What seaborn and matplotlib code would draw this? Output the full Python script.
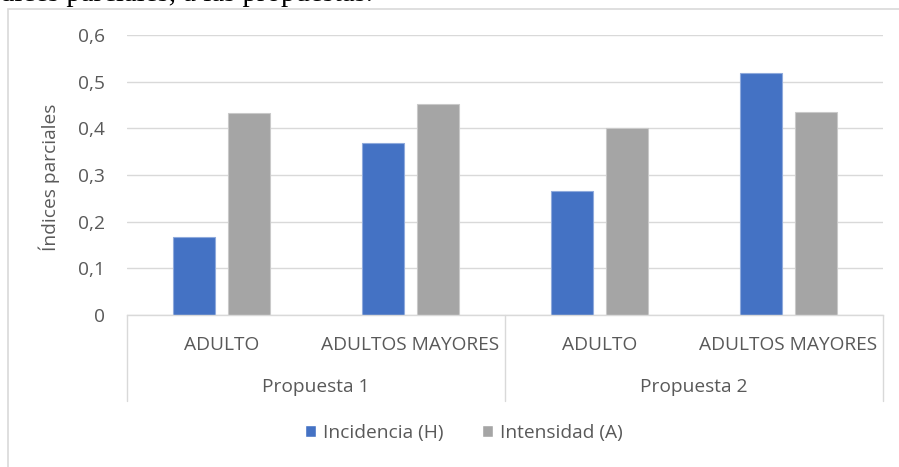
import matplotlib
matplotlib.use("Agg")
import matplotlib.pyplot as plt
from matplotlib.patches import Rectangle
from matplotlib.lines import Line2D
import seaborn as sns
import pandas as pd

# Data
grupos = ["Propuesta 1", "Propuesta 1", "Propuesta 2", "Propuesta 2"]
poblaciones = ["ADULTO", "ADULTOS MAYORES", "ADULTO", "ADULTOS MAYORES"]
incidencia = [0.168, 0.369, 0.266, 0.519]
intensidad = [0.432, 0.452, 0.400, 0.435]
series = ["Incidencia (H)", "Intensidad (A)"]
y_ticks = [0, 0.1, 0.2, 0.3, 0.4, 0.5, 0.6]
y_ticklabels = ["0", "0,1", "0,2", "0,3", "0,4", "0,5", "0,6"]

claves = [f"{g} | {p}" for g, p in zip(grupos, poblaciones)]
df = pd.DataFrame({
    "clave": claves * 2,
    "serie": [series[0]] * 4 + [series[1]] * 4,
    "valor": incidencia + intensidad,
})

TEXT = "#595959"
GRID = "#d9d9d9"
BLUE = "#4472c4"
GRAY = "#a5a5a5"
FS = 13.8

sns.set_theme(style="white")
plt.rcParams["font.family"] = ["Open Sans", "DejaVu Sans"]

W, H = 899, 467
fig = plt.figure(figsize=(W / 100, H / 100), dpi=100)
ax = fig.add_axes([127 / W, (H - 315) / H, (883 - 127) / W, (315 - 35) / H])

sns.barplot(
    data=df, x="clave", y="valor", hue="serie", order=claves,
    hue_order=series, palette=[BLUE, GRAY], width=0.577, gap=0.23,
    ax=ax, legend=True, saturation=1,
)
for patch, ec in zip(ax.patches[:8], ["#8faadc"] * 4 + ["#c9c9c9"] * 4):
    patch.set_edgecolor(ec)
    patch.set_linewidth(0.8)

ax.set_ylim(0, 0.6)
ax.set_xlim(-0.5, 3.5)
ax.set_yticks(y_ticks)
ax.set_yticklabels(y_ticklabels)
ax.yaxis.grid(True, color=GRID, linewidth=1.0)
ax.set_axisbelow(True)
for side in ["top", "right", "left"]:
    ax.spines[side].set_visible(False)
ax.spines["bottom"].set_color(GRID)
ax.spines["bottom"].set_linewidth(1.0)

ax.set_xticks(range(4))
ax.set_xticklabels(poblaciones)
ax.tick_params(axis="x", length=0, pad=15, labelsize=FS, labelcolor=TEXT)
ax.tick_params(axis="y", length=0, pad=16, labelsize=FS, labelcolor=TEXT)
ax.set_xlabel("")
ax.set_ylabel("Índices parciales", fontsize=FS, color=TEXT)
ax.yaxis.set_label_coords(-0.088, 0.493)


def fx(px):
    return px / W


def fy(py):
    return (H - py) / H


# Two-level category axis: group separators and group labels
for xpix in [127, 505, 883]:
    fig.add_artist(Line2D([fx(xpix), fx(xpix)], [fy(315), fy(401)],
                          color=GRID, linewidth=1.0))
for i, g in enumerate(["Propuesta 1", "Propuesta 2"]):
    ax.text(0.5 + 2 * i, -72 / 280, g, transform=ax.get_xaxis_transform(),
            ha="center", va="center", fontsize=FS, color=TEXT)

# Legend
handles, labels = ax.get_legend_handles_labels()
ax.legend_.remove()
fig.legend(handles, labels, loc="center", bbox_to_anchor=(fx(464), fy(433)),
           ncol=2, frameon=False, fontsize=FS, labelcolor=TEXT,
           handlelength=0.55, handleheight=0.55, handletextpad=0.4,
           columnspacing=2.0)

# Chart frame
fig.add_artist(Rectangle((fx(8), -0.1), 1.2, fy(9) + 0.1, transform=fig.transFigure,
                         fill=False, edgecolor=GRID, linewidth=1.2))

# Document caption above the chart
fig.text(-24 / W, fy(1), "Índices parciales, a las propuestas.",
         fontsize=20.8, family="Liberation Serif", color="black", va="baseline")

fig.savefig("out.png", dpi=100)
